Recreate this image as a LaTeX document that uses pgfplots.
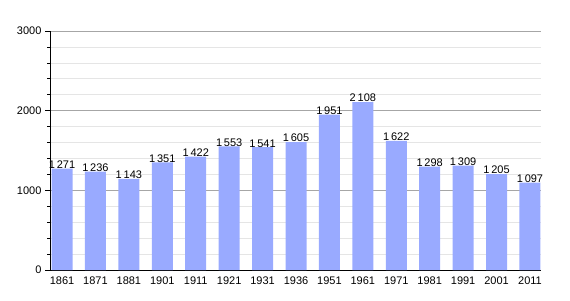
\documentclass[border=0pt]{standalone}
\usepackage{pgfplots}
\pgfplotsset{compat=1.18}
\usepackage{fontspec}
\setmainfont{Liberation Sans}
\begin{document}
\begin{tikzpicture}
\begin{axis}[
  scale only axis, width=491pt, height=239pt,
  xmin=-0.36, xmax=14.33, ymin=0, ymax=3000,
  axis x line=bottom, axis y line=left,
  axis line style={-, black, line width=0.8pt},
  xtick={0,...,14},
  xticklabels={1861,1871,1881,1901,1911,1921,1931,1936,1951,1961,1971,1981,1991,2001,2011},
  x tick style={draw=none},
  ytick={0,1000,2000,3000},
  minor ytick={200,400,600,800,1200,1400,1600,1800,2200,2400,2600,2800},
  ymajorgrids, yminorgrids,
  major grid style={gray!70, line width=0.6pt},
  minor grid style={gray!20, line width=0.6pt},
  y tick style={black, line width=0.6pt},
  tick align=outside,
  major tick length=5pt, minor tick length=3pt,
  /pgf/number format/assume math mode=true,
  scaled y ticks=false,
  yticklabel style={/pgf/number format/1000 sep={}, font=\fontsize{11}{12}\selectfont},
  xticklabel style={font=\fontsize{11}{12}\selectfont, yshift=2pt},
  ybar, bar width=21pt,
  nodes near coords,
  every node near coord/.append style={font=\fontsize{11}{12}\selectfont, black, /pgf/number format/1000 sep={\,}, yshift=-3.5pt},
  clip=false,
]
\addplot[fill={rgb,255:red,153;green,170;blue,255}, draw=none] coordinates {
(0,1271) (1,1236) (2,1143) (3,1351) (4,1422) (5,1553) (6,1541) (7,1605)
(8,1951) (9,2108) (10,1622) (11,1298) (12,1309) (13,1205) (14,1097)};
\coordinate (bl) at (rel axis cs:0,0);
\coordinate (tr) at (rel axis cs:1,1);
\end{axis}
\pgfresetboundingbox
\path[use as bounding box] ([xshift=-50pt,yshift=-30pt]bl) rectangle ([xshift=29pt,yshift=31pt]tr);
\end{tikzpicture}
\end{document}
